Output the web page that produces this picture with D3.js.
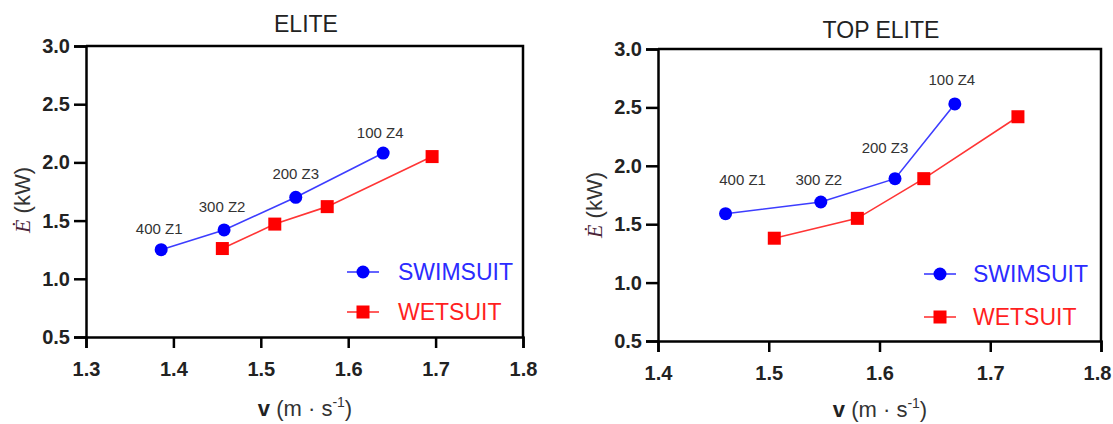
<!DOCTYPE html>
<html>
<head>
<meta charset="utf-8">
<script src="https://cdn.jsdelivr.net/npm/d3@7"></script>
<style>
  body { margin: 0; background: #fff; }
  svg { display: block; font-family: "Liberation Sans", Arial, sans-serif; }
</style>
</head>
<body>
<div class="chart"></div>
<script>
// data
var zoneLabels = ["400 Z1", "300 Z2", "200 Z3", "100 Z4"];
var seriesNames = ["SWIMSUIT", "WETSUIT"];
var yTicks = [0.5, 1.0, 1.5, 2.0, 2.5, 3.0];

var eliteSwimV = [1.386, 1.458, 1.540, 1.640];
var eliteSwimE = [1.25, 1.42, 1.70, 2.08];
var eliteWetV = [1.456, 1.516, 1.576, 1.696];
var eliteWetE = [1.26, 1.47, 1.62, 2.05];
var eliteXTicks = [1.3, 1.4, 1.5, 1.6, 1.7, 1.8];

var topSwimV = [1.461, 1.547, 1.614, 1.668];
var topSwimE = [1.59, 1.69, 1.89, 2.53];
var topWetV = [1.505, 1.580, 1.640, 1.725];
var topWetE = [1.38, 1.55, 1.89, 2.42];
var topXTicks = [1.4, 1.5, 1.6, 1.7, 1.8];

var W = 1113, H = 424;
var svg = d3.select(".chart").append("svg").attr("width", W).attr("height", H);

var blueLine = "#3d3dff", blueMark = "#0000ff", blueText = "#2b2bff";
var redLine = "#ff3535", redMark = "#ff0000", redText = "#ff1f1f";

const panel = function panel(opt) {
  var x = d3.scaleLinear().domain(opt.xDomain).range([opt.left, opt.right]);
  var y = d3.scaleLinear().domain([0.5, 3.0]).range([opt.bottom, opt.top]);
  var g = svg.append("g");

  // title
  g.append("text")
    .attr("x", opt.titleX).attr("y", opt.titleY)
    .attr("text-anchor", "middle")
    .style("font-size", "23px").style("fill", "#222")
    .text(opt.title);

  // frame (top + right)
  g.append("path")
    .attr("d", "M" + opt.left + "," + opt.top + "H" + opt.right + "V" + opt.bottom)
    .attr("fill", "none").attr("stroke", "#000").attr("stroke-width", 2.5);

  // axes
  var xa = g.append("g")
    .attr("transform", "translate(0," + opt.bottom + ")")
    .call(d3.axisBottom(x).tickValues(opt.xTicks).tickFormat(d3.format(".1f")).tickSize(11).tickPadding(14));
  var ya = g.append("g")
    .attr("transform", "translate(" + opt.left + ",0)")
    .call(d3.axisLeft(y).tickValues(yTicks).tickFormat(d3.format(".1f")).tickSize(12).tickPadding(4));
  [xa, ya].forEach(function(a) {
    a.select(".domain").attr("stroke", "#000").attr("stroke-width", 2.5);
    a.selectAll(".tick line").attr("stroke", "#000").attr("stroke-width", 2.5);
    a.selectAll(".tick text")
      .style("font-size", "20px").style("font-weight", "bold").style("fill", "#222")
      .style("font-family", "'Liberation Sans', Arial, sans-serif");
  });
  // keep the last x label inside the page
  if (opt.lastDx) {
    xa.selectAll(".tick text").filter(function(d, i, n) { return i == n.length - 1; })
      .attr("dx", opt.lastDx);
  }

  // series
  var line = d3.line().x(function(d) { return x(d[0]); }).y(function(d) { return y(d[1]); });
  var swim = d3.zip(opt.swimV, opt.swimE);
  var wet = d3.zip(opt.wetV, opt.wetE);

  g.append("path").datum(swim).attr("d", line)
    .attr("fill", "none").attr("stroke", blueLine).attr("stroke-width", 1.6);
  g.append("path").datum(wet).attr("d", line)
    .attr("fill", "none").attr("stroke", redLine).attr("stroke-width", 1.6);

  g.selectAll(".sq").data(wet).enter().append("rect")
    .attr("x", function(d) { return x(d[0]) - 6.5; })
    .attr("y", function(d) { return y(d[1]) - 6.5; })
    .attr("width", 13).attr("height", 13)
    .attr("fill", redMark);
  g.selectAll(".dot").data(swim).enter().append("circle")
    .attr("cx", function(d) { return x(d[0]); })
    .attr("cy", function(d) { return y(d[1]); })
    .attr("r", 6.5).attr("fill", blueMark);

  // zone labels above the swimsuit points
  g.selectAll(".zl").data(swim).enter().append("text")
    .attr("x", function(d, i) { return x(d[0]) + opt.labelOff[i][0]; })
    .attr("y", function(d, i) { return y(d[1]) + opt.labelOff[i][1]; })
    .attr("dy", "0.35em")
    .attr("text-anchor", "middle")
    .style("font-size", "15px").style("fill", "#333")
    .text(function(d, i) { return zoneLabels[i]; });

  // legend
  var lx = opt.left + opt.legX, lt = opt.left + opt.legTextX;
  [[opt.top + opt.legY[0], blueLine, blueMark, blueText, "c"],
   [opt.top + opt.legY[1], redLine, redMark, redText, "s"]].forEach(function(l, i) {
    g.append("line").attr("x1", lx - 16).attr("x2", lx + 16).attr("y1", l[0]).attr("y2", l[0])
      .attr("stroke", l[1]).attr("stroke-width", 1.6);
    if (l[4] == "c") {
      g.append("circle").attr("cx", lx).attr("cy", l[0]).attr("r", 6.5).attr("fill", l[2]);
    } else {
      g.append("rect").attr("x", lx - 6.5).attr("y", l[0] - 6.5).attr("width", 13).attr("height", 13).attr("fill", l[2]);
    }
    g.append("text").attr("x", lt).attr("y", l[0]).attr("dy", "0.36em")
      .style("font-size", "23px").style("fill", l[3])
      .text(seriesNames[i]);
  });

  // y axis label
  var yl = g.append("text")
    .attr("transform", "translate(" + opt.yLabX + "," + opt.yLabY + ") rotate(-90)")
    .attr("text-anchor", "middle")
    .style("font-size", "22px").style("fill", "#333");
  yl.append("tspan").text("\u0116")
    .style("font-family", "'Liberation Serif', 'Times New Roman', serif")
    .style("font-style", "italic").style("fill", "#4a2438");
  yl.append("tspan").text(" (kW)");

  // x axis label
  var xl = g.append("text")
    .attr("x", opt.xLabX).attr("y", opt.xLabY)
    .attr("text-anchor", "middle")
    .style("font-size", "22px").style("fill", "#333");
  xl.append("tspan").text("v").style("font-weight", "bold").style("fill", "#222");
  xl.append("tspan").text(" (m \u00b7 s");
  xl.append("tspan").text("-1").attr("dy", "-9").style("font-size", "14px");
  xl.append("tspan").text(")").attr("dy", "9");
};

panel({
  title: "ELITE", titleX: 306, titleY: 32,
  left: 86, right: 523, top: 46, bottom: 337,
  xDomain: [1.3, 1.8], xTicks: eliteXTicks,
  swimV: eliteSwimV, swimE: eliteSwimE, wetV: eliteWetV, wetE: eliteWetE,
  labelOff: [[-2, -21], [-2, -23], [0, -24], [-3, -20]],
  legX: 277, legTextX: 312, legY: [226, 266],
  yLabX: 30, yLabY: 200, xLabX: 305, xLabY: 416
});

panel({
  title: "TOP ELITE", titleX: 881, titleY: 38,
  left: 658, right: 1101, top: 49, bottom: 341,
  xDomain: [1.4, 1.8], xTicks: topXTicks, lastDx: -4,
  swimV: topSwimV, swimE: topSwimE, wetV: topWetV, wetE: topWetE,
  labelOff: [[17, -34], [-2, -22], [-10, -31], [-3, -24]],
  legX: 282, legTextX: 315, legY: [225, 268],
  yLabX: 602, yLabY: 205, xLabX: 880, xLabY: 417
});
</script>
</body>
</html>
